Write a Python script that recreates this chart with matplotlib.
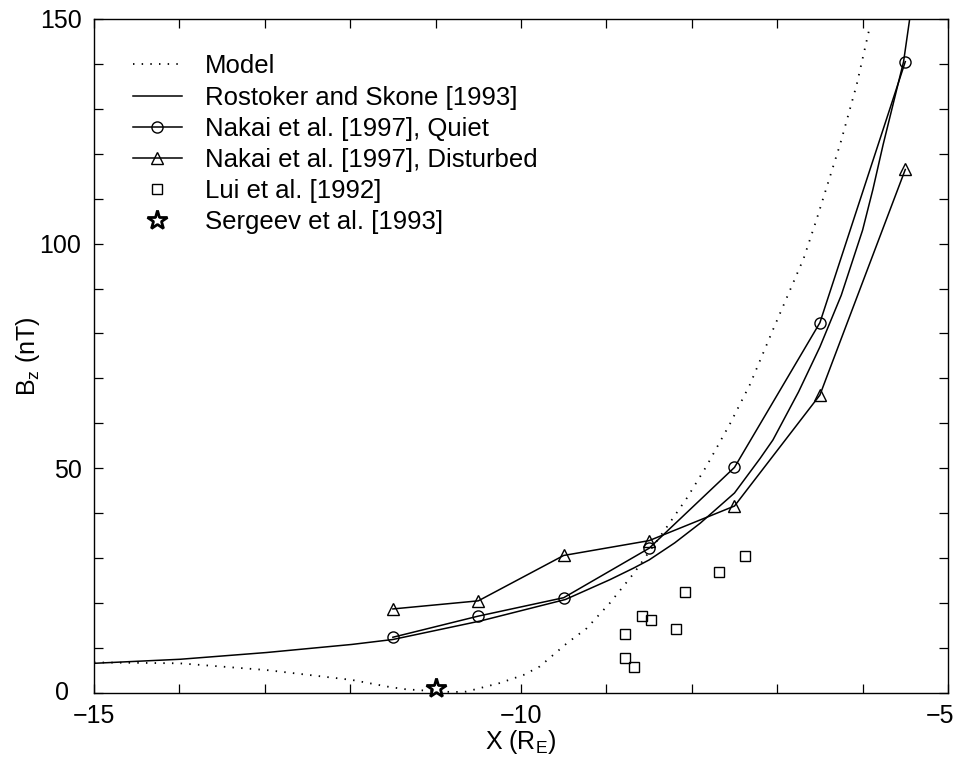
import matplotlib as mpl
mpl.use("Agg")
import matplotlib.pyplot as plt
from matplotlib.transforms import ScaledTranslation

# Model curve (dotted)
model_x = [-15.0, -14.0, -12.98, -11.98, -11.53, -11.34, -11.0, -10.8, -10.64, -10.25,
           -9.97, -9.78, -9.46, -9.23, -8.96, -8.68, -8.29, -8.06, -7.83, -7.55,
           -7.32, -7.05, -6.69, -6.54, -6.26, -6.07, -5.91]
model_b = [6.8, 6.6, 5.1, 2.9, 1.3, 0.8, 0.4, 0.2, 0.3, 2.2,
           4.0, 5.9, 11.1, 14.4, 20.0, 26.6, 37.0, 43.3, 50.4, 60.0,
           68.6, 80.8, 96.7, 105.3, 122.3, 135.3, 148.7]

# Rostoker and Skone [1993]
rs_x = [-15.0, -13.99, -12.98, -11.98, -11.5, -10.48, -9.48, -8.96, -8.68, -8.5,
        -8.2, -7.90, -7.5, -7.20, -7.05, -6.75, -6.5, -6.25, -6.0, -5.88,
        -5.76, -5.52, -5.45]
rs_b = [6.6, 7.5, 9.0, 10.8, 11.9, 16.0, 20.8, 25.2, 27.8, 29.6,
        33.4, 37.8, 44.5, 52.2, 56.3, 67.0, 77.0, 88.5, 103.0, 112.0,
        122.0, 140.5, 149.8]

# Nakai et al. [1997]
nakai_x = [-11.5, -10.5, -9.5, -8.5, -7.5, -6.5, -5.5]
quiet_b = [12.4, 17.1, 21.2, 32.2, 50.2, 82.4, 140.5]
disturbed_b = [18.7, 20.5, 30.6, 33.9, 41.6, 66.3, 116.5]

# Lui et al. [1992]
lui_x = [-7.38, -7.68, -8.08, -8.58, -8.48, -8.18, -8.78, -8.78, -8.68]
lui_b = [30.5, 26.9, 22.4, 17.2, 16.2, 14.3, 13.2, 7.7, 5.7]

# Sergeev et al. [1993]
serg_x = [-11.0]
serg_b = [1.2]

x_ticks = list(range(-15, -4))
x_labels = {-15: "\u221215", -10: "\u221210", -5: "\u22125"}
y_ticks = list(range(0, 151, 10))

plt.rcParams.update({
    "font.family": ["Liberation Sans", "DejaVu Sans"],
    "mathtext.fontset": "custom",
    "mathtext.rm": "Liberation Sans",
    "mathtext.default": "regular",
    "font.size": 18,
    "axes.linewidth": 1.0,
})

fig = plt.figure(figsize=(9.54, 7.58), dpi=100)
ax = fig.add_axes([0.0985, 0.0858, 0.8952, 0.8892])

ax.plot(model_x, model_b, color="black", lw=1.3, ls=(0, (0.8, 4.0)), label="Model")
ax.plot(rs_x, rs_b, color="black", lw=1.1, label="Rostoker and Skone [1993]")
ax.plot(nakai_x, quiet_b, color="black", lw=1.1, marker="o", ms=8,
        mfc="none", mec="black", mew=1.0, label="Nakai et al. [1997], Quiet")
ax.plot(nakai_x, disturbed_b, color="black", lw=1.1, marker="^", ms=8.5,
        mfc="none", mec="black", mew=1.0, label="Nakai et al. [1997], Disturbed")
ax.plot(lui_x, lui_b, ls="none", marker="s", ms=6.7, mfc="none", mec="black",
        mew=1.0, label="Lui et al. [1992]")
ax.plot(serg_x, serg_b, ls="none", marker="*", ms=15, mfc="white", mec="black",
        mew=2.0, label="Sergeev et al. [1993]", clip_on=False, zorder=5)

ax.set_xlim(-15, -5)
ax.set_ylim(0, 150)
ax.set_xticks(x_ticks)
ax.set_xticklabels([x_labels.get(v, "") for v in x_ticks])
ax.set_yticks(y_ticks)
ax.set_yticklabels([str(v) if v % 50 == 0 else "" for v in y_ticks])
ax.tick_params(direction="in", length=6.5, width=0.9, top=True, right=True,
               labelsize=18)
ax.tick_params(axis="x", pad=8)
ax.tick_params(axis="y", pad=9)

# MATLAB-like nudges: last x label kept inside, "0" pushed left
ax.get_xticklabels()[-1].set_ha("right")
ax.get_xticklabels()[-1].set_transform(
    ax.get_xticklabels()[-1].get_transform() + ScaledTranslation(6 / 100, 0, fig.dpi_scale_trans))
ax.get_yticklabels()[0].set_transform(
    ax.get_yticklabels()[0].get_transform() + ScaledTranslation(-12 / 100, 2 / 100, fig.dpi_scale_trans))

ax.set_xlabel("X (R$_E$)", fontsize=18, labelpad=0)
ax.set_ylabel("B$_z$ (nT)", fontsize=18, labelpad=-2)

ax.legend(loc="upper left", bbox_to_anchor=(0.0457, 0.9475), frameon=False,
          fontsize=18.5, handlelength=1.9, handletextpad=0.9, labelspacing=0.28,
          borderpad=0, borderaxespad=0)

fig.savefig("out.png", dpi=100, facecolor="white")
